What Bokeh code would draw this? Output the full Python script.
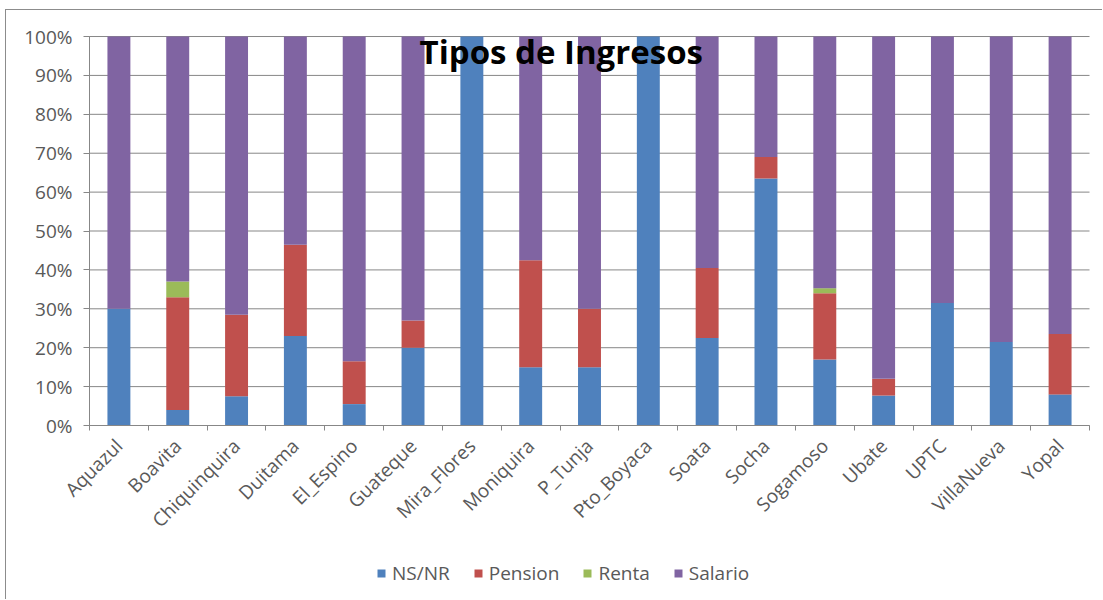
from bokeh.plotting import figure
from bokeh.models import (Range1d, LinearAxis, FixedTicker, NumeralTickFormatter,
                          Legend, LegendItem, Label)
from bokeh.embed import file_html
from bokeh.resources import INLINE

categories = ["Aquazul", "Boavita", "Chiquinquira", "Duitama", "El_Espino", "Guateque",
              "Mira_Flores", "Moniquira", "P_Tunja", "Pto_Boyaca", "Soata", "Socha",
              "Sogamoso", "Ubate", "UPTC", "VillaNueva", "Yopal"]
ns_nr   = [30.0, 4.0, 7.5, 23.0, 5.5, 20.0, 100.0, 15.0, 15.0, 100.0, 22.5, 63.5, 17.0, 7.7, 31.5, 21.5, 8.0]
pension = [0.0, 29.0, 21.0, 23.5, 11.0, 7.0, 0.0, 27.5, 15.0, 0.0, 18.0, 5.5, 17.0, 4.3, 0.0, 0.0, 15.5]
renta   = [0.0, 4.0, 0.0, 0.0, 0.0, 0.0, 0.0, 0.0, 0.0, 0.0, 0.0, 0.0, 1.3, 0.0, 0.0, 0.0, 0.0]
salario = [100.0 - a - b - c for a, b, c in zip(ns_nr, pension, renta)]
series_names = ["NS/NR", "Pension", "Renta", "Salario"]
colors = ["#4F81BD", "#C0504D", "#9BBB59", "#8064A2"]
y_ticks = [i / 10 for i in range(11)]
title_text = "Tipos de Ingresos"

n = len(categories)
centers = [i + 0.5 for i in range(n)]
boundaries = list(range(n + 1))
data = {"x": centers}
for name, vals in zip(series_names, [ns_nr, pension, renta, salario]):
    data[name] = [v / 100.0 for v in vals]

FONT = "Open Sans"
GREY_TXT = "#595959"
GRID = "#878787"

# frame spans nearly the whole canvas; axes are pinned at x=0 / y=0 so their labels are not clipped
p = figure(x_range=Range1d(-1.343, n + 0.238), y_range=Range1d(-0.437, 1.0566), width=1097, height=590,
           output_backend="svg", toolbar_location=None, x_axis_location=None, y_axis_location=None,
           min_border_left=4, min_border_right=0, min_border_top=4, min_border_bottom=5)
p.margin = (9, 0, 0, 5)
p.styles = {"border-top": "1px solid #8c8c8c", "border-left": "1px solid #8c8c8c"}
p.outline_line_color = None
p.background_fill_color = "white"
p.xgrid.grid_line_color = None
p.ygrid.grid_line_color = None

# horizontal gridlines limited to the category span, plus the vertical axis line
p.segment(x0=[0] * len(y_ticks), x1=[n] * len(y_ticks), y0=y_ticks, y1=y_ticks, line_color=GRID, line_width=1)
p.segment(x0=[0], x1=[0], y0=[y_ticks[0]], y1=[y_ticks[-1]], line_color=GRID, line_width=1)

renderers = p.vbar_stack(series_names, x="x", width=0.39, color=colors, source=data, line_color=None)

# y axis pinned at x=0
yaxis = LinearAxis(ticker=FixedTicker(ticks=y_ticks), fixed_location=0, bounds=(0, 1),
                   formatter=NumeralTickFormatter(format="0%"),
                   axis_line_color=GRID, major_tick_line_color=GRID, major_tick_out=6, major_tick_in=0,
                   minor_tick_line_color=None, major_label_text_font=FONT, major_label_text_font_size="19px",
                   major_label_text_color=GREY_TXT, major_label_standoff=11)
p.add_layout(yaxis, "left")

# x ticks between categories, pinned at 0%
tick_axis = LinearAxis(ticker=FixedTicker(ticks=boundaries), fixed_location=0, bounds=(0, n),
                       major_label_overrides={b: "" for b in boundaries}, major_label_standoff=0,
                       axis_line_color=GRID, major_tick_line_color=GRID,
                       major_tick_out=5, major_tick_in=0, minor_tick_line_color=None)
p.add_layout(tick_axis, "below")

label_axis = LinearAxis(ticker=FixedTicker(ticks=centers), fixed_location=0,
                        major_label_overrides={c: name for c, name in zip(centers, categories)},
                        axis_line_color=None, major_tick_line_color=None, minor_tick_line_color=None,
                        major_label_orientation=0.785398, major_label_standoff=11,
                        major_label_text_font=FONT, major_label_text_font_size="19px",
                        major_label_text_color=GREY_TXT)
p.add_layout(label_axis, "below")

legend = Legend(items=[LegendItem(label=nm, renderers=[r]) for nm, r in zip(series_names, renderers)],
                orientation="horizontal", location=(366, 9),
                label_text_font=FONT, label_text_font_size="19px", label_text_color=GREY_TXT,
                glyph_width=10, glyph_height=10, spacing=23, label_standoff=6,
                border_line_color=None, background_fill_alpha=0, margin=0, padding=0)
p.add_layout(legend)

p.add_layout(Label(x=8.02, y=0.961, text=title_text, text_align="center", text_baseline="alphabetic",
                   text_font=FONT, text_font_style="bold", text_font_size="33px", text_color="#000000"))

open("out.html", "w").write(file_html(p, INLINE))
